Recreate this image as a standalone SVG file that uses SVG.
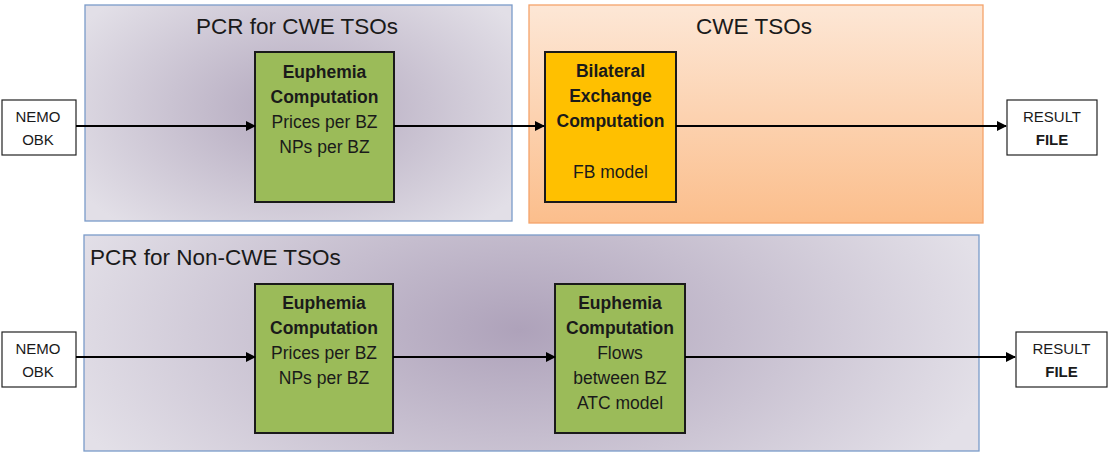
<svg xmlns="http://www.w3.org/2000/svg" width="1108" height="453" viewBox="0 0 1108 453">
<defs>
<radialGradient id="gPurpleTop" cx="300" cy="110" r="260" gradientUnits="userSpaceOnUse" gradientTransform="translate(300 110) scale(1 0.6) translate(-300 -110)">
<stop offset="0" stop-color="#b2a7bd"/><stop offset="1" stop-color="#e2dfe7"/>
</radialGradient>
<radialGradient id="gPurpleBot" cx="520" cy="330" r="480" gradientUnits="userSpaceOnUse" gradientTransform="translate(520 330) scale(1 0.5) translate(-520 -330)">
<stop offset="0" stop-color="#aea2ba"/><stop offset="1" stop-color="#e3e0e8"/>
</radialGradient>
<linearGradient id="gOrange" x1="0" y1="0" x2="0" y2="1">
<stop offset="0" stop-color="#fde7d6"/><stop offset="1" stop-color="#fbbe8c"/>
</linearGradient>
<marker id="arr" markerWidth="10" markerHeight="10" refX="9" refY="5" orient="auto" markerUnits="userSpaceOnUse">
<path d="M0,0 L10,5 L0,10 z" fill="#000"/>
</marker>
</defs>
<style>
.cont{stroke:#7a9bc9;stroke-width:1.3}
.box{stroke:#1a1a1a;stroke-width:2}
.io{fill:#fff;stroke:#222;stroke-width:1.2}
text{font-family:"Liberation Sans",Arial,sans-serif;fill:#1a1a1a;text-anchor:middle}
.t{font-size:17.5px}
.b{font-weight:bold}
.s{font-size:15px}
.h{font-size:22.5px}
.edge{stroke:#000;stroke-width:2;fill:none;marker-end:url(#arr)}
</style>
<rect width="1108" height="453" fill="#fff"/>
<g id="pcr-cwe">
<rect class="cont" x="85" y="5" width="427" height="216" fill="url(#gPurpleTop)"/>
<text class="h" x="297" y="34">PCR for CWE TSOs</text>
</g>
<g id="cwe-tsos">
<rect x="529" y="5" width="454" height="218" fill="url(#gOrange)" stroke="#f4a36a" stroke-width="1.3"/>
<text class="h" x="754" y="34">CWE TSOs</text>
</g>
<g id="pcr-noncwe">
<rect class="cont" x="84" y="235" width="895" height="216" fill="url(#gPurpleBot)"/>
<text class="h" x="90" y="265" style="text-anchor:start">PCR for Non-CWE TSOs</text>
</g>
<g id="nemo-top">
<rect class="io" x="2" y="100" width="74" height="55"/>
<text class="s" x="38" y="122">NEMO</text>
<text class="s" x="38" y="145">OBK</text>
</g>
<g id="euph-top">
<rect class="box" x="255" y="52" width="139" height="150" fill="#9bbb59"/>
<text class="t b" x="324.5" y="78">Euphemia</text>
<text class="t b" x="324.5" y="103">Computation</text>
<text class="t" x="324.5" y="128">Prices per BZ</text>
<text class="t" x="324.5" y="153">NPs per BZ</text>
</g>
<g id="bilateral">
<rect class="box" x="545" y="52" width="131" height="150" fill="#ffc000"/>
<text class="t b" x="610.5" y="77">Bilateral</text>
<text class="t b" x="610.5" y="102">Exchange</text>
<text class="t b" x="610.5" y="127">Computation</text>
<text class="t" x="610.5" y="178">FB model</text>
</g>
<g id="result-top">
<rect class="io" x="1007" y="100" width="90" height="55"/>
<text class="s" x="1052" y="122">RESULT</text>
<text class="s b" x="1052" y="145">FILE</text>
</g>
<g id="nemo-bot">
<rect class="io" x="2" y="332" width="74" height="55"/>
<text class="s" x="38" y="354">NEMO</text>
<text class="s" x="38" y="377">OBK</text>
</g>
<g id="euph-bot1">
<rect class="box" x="255" y="284" width="138" height="149" fill="#9bbb59"/>
<text class="t b" x="324" y="309">Euphemia</text>
<text class="t b" x="324" y="334">Computation</text>
<text class="t" x="324" y="359">Prices per BZ</text>
<text class="t" x="324" y="384">NPs per BZ</text>
</g>
<g id="euph-bot2">
<rect class="box" x="555" y="284" width="130" height="149" fill="#9bbb59"/>
<text class="t b" x="620" y="309">Euphemia</text>
<text class="t b" x="620" y="334">Computation</text>
<text class="t" x="620" y="359">Flows</text>
<text class="t" x="620" y="384">between BZ</text>
<text class="t" x="620" y="409">ATC model</text>
</g>
<g id="result-bot">
<rect class="io" x="1016" y="332" width="91" height="55"/>
<text class="s" x="1061.5" y="354">RESULT</text>
<text class="s b" x="1061.5" y="377">FILE</text>
</g>
<g id="connectors">
<line class="edge" x1="76" y1="126" x2="255" y2="126"/>
<line class="edge" x1="394" y1="126" x2="544" y2="126"/>
<line class="edge" x1="676" y1="126" x2="1006" y2="126"/>
<line class="edge" x1="76" y1="357" x2="255" y2="357"/>
<line class="edge" x1="393" y1="357" x2="555" y2="357"/>
<line class="edge" x1="685" y1="357" x2="1015" y2="357"/>
</g>
</svg>
